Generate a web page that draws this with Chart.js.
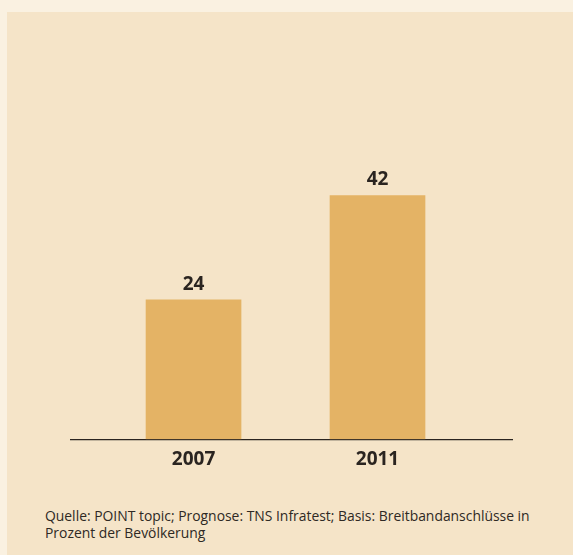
<!DOCTYPE html>
<html>
<head>
<meta charset="utf-8">
<script src="https://cdn.jsdelivr.net/npm/chart.js@4/dist/chart.umd.min.js"></script>
<style>
  html, body { margin: 0; padding: 0; }
  body { width: 573px; height: 555px; background: #FAF1E1; position: relative; overflow: hidden; }
  #panel { position: absolute; left: 7px; top: 12px; width: 566px; height: 543px; background: #F5E4C8; }
  #wrap { position: absolute; left: 0; top: 0; width: 566px; height: 468px; }
  #note { position: absolute; left: 38px; top: 495px; font-family: "Open Sans", sans-serif; font-size: 13.9px; line-height: 17px; color: #2E2924; white-space: nowrap; }
</style>
</head>
<body>
<div id="panel">
  <div id="wrap"><canvas id="c"></canvas></div>
  <div id="note">Quelle: POINT topic; Prognose: TNS Infratest; Basis: Breitbandanschlüsse in<br>Prozent der Bevölkerung</div>
</div>
<script>
const categories = ['2007', '2011'];
const values = [24, 42];
const valueLabels = ['24', '42'];

const dataLabelPlugin = {
  id: 'dataLabels',
  afterDatasetsDraw(chart) {
    const ctx = chart.ctx;
    const meta = chart.getDatasetMeta(0);
    ctx.save();
    ctx.font = 'bold 19px "Open Sans", sans-serif';
    ctx.fillStyle = '#2A2420';
    ctx.textAlign = 'center';
    ctx.textBaseline = 'bottom';
    meta.data.forEach((bar, i) => {
      ctx.fillText(valueLabels[i], bar.x, bar.y - 6);
    });
    ctx.restore();
  }
};

new Chart(document.getElementById('c'), {
  type: 'bar',
  data: {
    datasets: [{
      data: categories.map((c, i) => ({ x: i, y: values[i] })),
      backgroundColor: '#E4B365',
      borderWidth: 0,
      barThickness: 95
    }]
  },
  options: {
    responsive: true,
    maintainAspectRatio: false,
    animation: false,
    layout: { padding: { left: 64, right: 61, top: 50, bottom: 0 } },
    plugins: { legend: { display: false }, tooltip: { enabled: false } },
    scales: {
      x: {
        type: 'linear',
        offset: false,
        bounds: 'data',
        min: -0.666,
        max: 1.731,
        grid: { display: false, drawTicks: false, offset: false },
        border: { display: true, color: '#2A2420', width: 1.2 },
        afterBuildTicks(scale) { scale.ticks = categories.map((c, i) => ({ value: i })); },
        ticks: {
          padding: 9,
          color: '#2A2420',
          font: { family: '"Open Sans", sans-serif', size: 19, weight: 'bold' },
          callback: (v) => categories[v],
          autoSkip: false,
          maxRotation: 0
        }
      },
      y: {
        display: false,
        min: 0,
        max: 65
      }
    }
  },
  plugins: [dataLabelPlugin]
});
</script>
</body>
</html>
